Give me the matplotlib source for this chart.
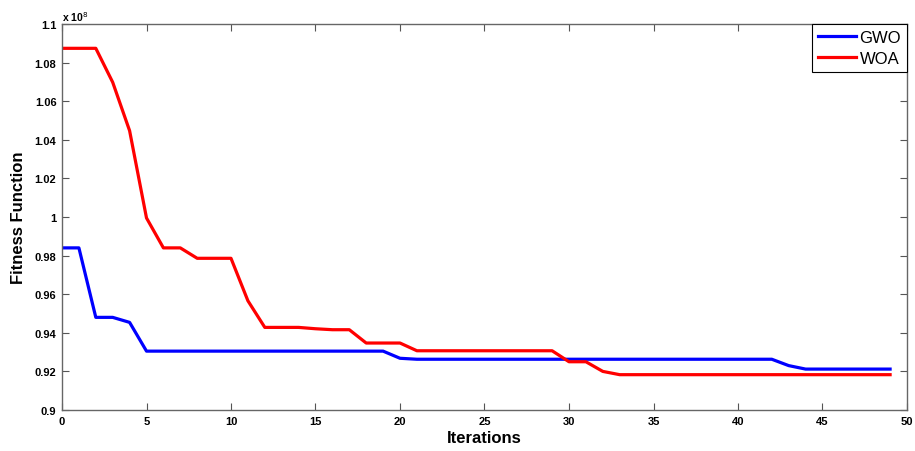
import numpy as np
import matplotlib.pyplot as plt

# values in units of 1e8
iterations = np.arange(50)
gwo = [0.984, 0.984, 0.948, 0.948, 0.9454] + [0.9305] * 15 + [0.9268] + [0.9263] * 22 + [0.9230] + [0.9212] * 6
woa = [1.0874, 1.0874, 1.0874, 1.0698, 1.0447, 0.9995, 0.984, 0.984, 0.9786, 0.9786, 0.9786,
       0.9566, 0.9428, 0.9428, 0.9428, 0.9421, 0.9416, 0.9416, 0.9347, 0.9347, 0.9347] \
      + [0.9307] * 9 + [0.9250, 0.9250, 0.9200] + [0.9183] * 17

plt.rcParams['font.family'] = ['Liberation Sans', 'DejaVu Sans']

fig = plt.figure(figsize=(9.15, 4.52), dpi=100)
ax = fig.add_axes([62 / 915, 1 - 411 / 452, 845 / 915, 386 / 452])

ax.plot(iterations, gwo, color='#0000ff', lw=2.3, label='GWO')
ax.plot(iterations, woa, color='#ff0000', lw=2.3, label='WOA')

ax.set_xlim(0, 50)
ax.set_ylim(0.9, 1.1)
ax.set_xticks(np.arange(0, 51, 5))
yt = np.arange(0.9, 1.1001, 0.02)
ax.set_yticks(yt)
ax.set_yticklabels(['%g' % round(v, 2) for v in yt])
ax.tick_params(direction='in', top=True, right=True, length=5, width=0.8,
               color='#555555', labelsize=8, pad=4)
for lab in ax.get_xticklabels() + ax.get_yticklabels():
    lab.set_fontweight('bold')
for s in ax.spines.values():
    s.set_color('#666666')
    s.set_linewidth(1.0)

ax.set_xlabel('Iterations', fontsize=12, fontweight='bold', labelpad=3)
ax.set_ylabel('Fitness Function', fontsize=12, fontweight='bold', labelpad=6)
ax.text(0, 1.002, 'x 10$^{8}$', transform=ax.transAxes, fontsize=7.5,
        fontweight='bold', ha='left', va='bottom')

leg = ax.legend(loc='upper right', fontsize=12, fancybox=False, framealpha=1,
                edgecolor='black', borderaxespad=0, handlelength=2.3,
                handletextpad=0.2, borderpad=0.35, labelspacing=0.35)
leg.get_frame().set_linewidth(0.8)

fig.savefig('out.png', dpi=100)
